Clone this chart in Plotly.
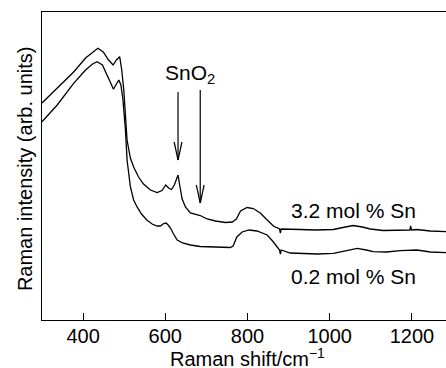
import plotly.graph_objects as go

# Raman shift (cm^-1) and intensities (arb. units)
shift_hi = [300, 337, 377, 406, 423, 436, 449, 462, 473, 481, 489, 494, 499, 503, 507,
            515, 523, 535, 547, 564, 580, 592, 601, 608, 615, 622, 631, 635, 641, 649,
            661, 685, 702, 722, 746, 763, 773, 783, 799, 814, 831, 848, 863, 878, 880,
            882, 904, 929, 965, 1009, 1038, 1057, 1079, 1099, 1130, 1172, 1195, 1197,
            1199, 1212, 1245, 1284]
int_hi = [217, 232, 248, 262, 268, 271.7, 268, 260, 255, 260, 263.3, 250, 230, 205, 180,
          162, 153, 143, 136, 130, 127.5, 129.5, 135, 132, 130.5, 135, 145, 135, 121, 113,
          107, 104.5, 101, 99, 97.5, 98, 101, 109, 112.5, 111.5, 107, 100, 94, 91, 87,
          91, 90.5, 90.5, 90, 90.5, 93, 94.5, 93, 91, 89.5, 90, 90, 94, 90, 90.5, 89, 88.3]

shift_lo = [300, 337, 377, 406, 423, 434, 447, 462, 474, 481, 487, 492, 497, 503, 507,
            515, 523, 531, 542, 555, 568, 580, 588, 596, 602, 608, 613, 620, 629, 642,
            661, 685, 710, 734, 758, 765, 774, 787, 804, 823, 848, 863, 878, 880, 882,
            904, 929, 970, 1009, 1038, 1067, 1089, 1106, 1138, 1172, 1212, 1245, 1284]
int_lo = [198.3, 215, 236.7, 250, 256, 258.3, 255, 242, 230.7, 236, 240, 235, 220, 190, 160,
          133.3, 120, 113.3, 106, 100, 96, 94, 94, 96.5, 97, 94.5, 91.7, 86, 80, 77,
          75, 73.5, 73.3, 72.5, 72.5, 74, 83, 88, 90, 89, 85, 78, 70, 66, 70,
          67, 66.5, 66, 66.7, 69, 71.7, 70, 68.3, 68, 69.3, 70, 68, 67.3]

ticks = [400, 600, 800, 1000, 1200]
tick_text = ["400", "600", "800", "1000", "1200"]

labels = ["3.2 mol % Sn", "0.2 mol % Sn"]
label_x = [1057, 1057]
label_y = [110, 44]

sno2_text = "SnO<sub>2</sub>"
sno2_pos = (661, 246)
arrow_x = [631, 685]
arrow_top = [228, 230]
arrow_tip = [160, 117]

FONT = "Liberation Sans, Arial, Helvetica, sans-serif"
fs = 21
fs_axis = 20

fig = go.Figure()
fig.add_trace(go.Scatter(x=shift_hi, y=int_hi, mode="lines",
                         line=dict(color="black", width=1.3), showlegend=False))
fig.add_trace(go.Scatter(x=shift_lo, y=int_lo, mode="lines",
                         line=dict(color="black", width=1.3), showlegend=False))

for t, lx, ly in zip(labels, label_x, label_y):
    fig.add_annotation(x=lx, y=ly, xref="x", yref="y", text=t, showarrow=False,
                       xanchor="center", yanchor="middle",
                       font=dict(size=fs, color="black", family=FONT))

fig.add_annotation(x=sno2_pos[0], y=sno2_pos[1], xref="x", yref="y", text=sno2_text,
                   showarrow=False, xanchor="center", yanchor="middle",
                   font=dict(size=fs, color="black", family=FONT))

# arrows: shaft + open V head
hw = 9.5   # half width of head in x data units
hl = 18    # head length in y data units
for ax_, top, tip in zip(arrow_x, arrow_top, arrow_tip):
    fig.add_shape(type="line", xref="x", yref="y", x0=ax_, x1=ax_, y0=top, y1=tip,
                  line=dict(color="black", width=1.2))
    fig.add_shape(type="line", xref="x", yref="y", x0=ax_ - hw, x1=ax_, y0=tip + hl, y1=tip,
                  line=dict(color="black", width=1.2))
    fig.add_shape(type="line", xref="x", yref="y", x0=ax_ + hw, x1=ax_, y0=tip + hl, y1=tip,
                  line=dict(color="black", width=1.2))

fig.add_annotation(x=800, y=-0.122, xref="x", yref="paper",
                   text="Raman shift/cm<sup>−1</sup>", showarrow=False,
                   xanchor="center", yanchor="middle",
                   font=dict(size=fs_axis, color="black", family=FONT))
fig.add_annotation(x=-0.042, y=0.49, xref="paper", yref="paper",
                   text="Raman intensity (arb. units)", textangle=-90, showarrow=False,
                   xanchor="center", yanchor="middle",
                   font=dict(size=20, color="black", family=FONT))

fig.update_layout(
    width=446, height=368,
    margin=dict(l=42, r=0, t=12, b=48),
    paper_bgcolor="white", plot_bgcolor="white",
    font=dict(family=FONT, size=fs, color="black"),
    xaxis=dict(range=[300, 1283], tickvals=ticks, ticktext=tick_text,
               ticks="inside", ticklen=7, tickwidth=1.2, tickcolor="black",
               ticklabelstandoff=-2,
               showline=True, linecolor="black", linewidth=1.3, mirror=True,
               showgrid=False, zeroline=False,
               tickfont=dict(size=fs_axis, family=FONT, color="black")),
    yaxis=dict(range=[0, 308], showticklabels=False, ticks="",
               showline=True, linecolor="black", linewidth=1.3,
               showgrid=False, zeroline=False),
)

fig.write_html("out.html")
